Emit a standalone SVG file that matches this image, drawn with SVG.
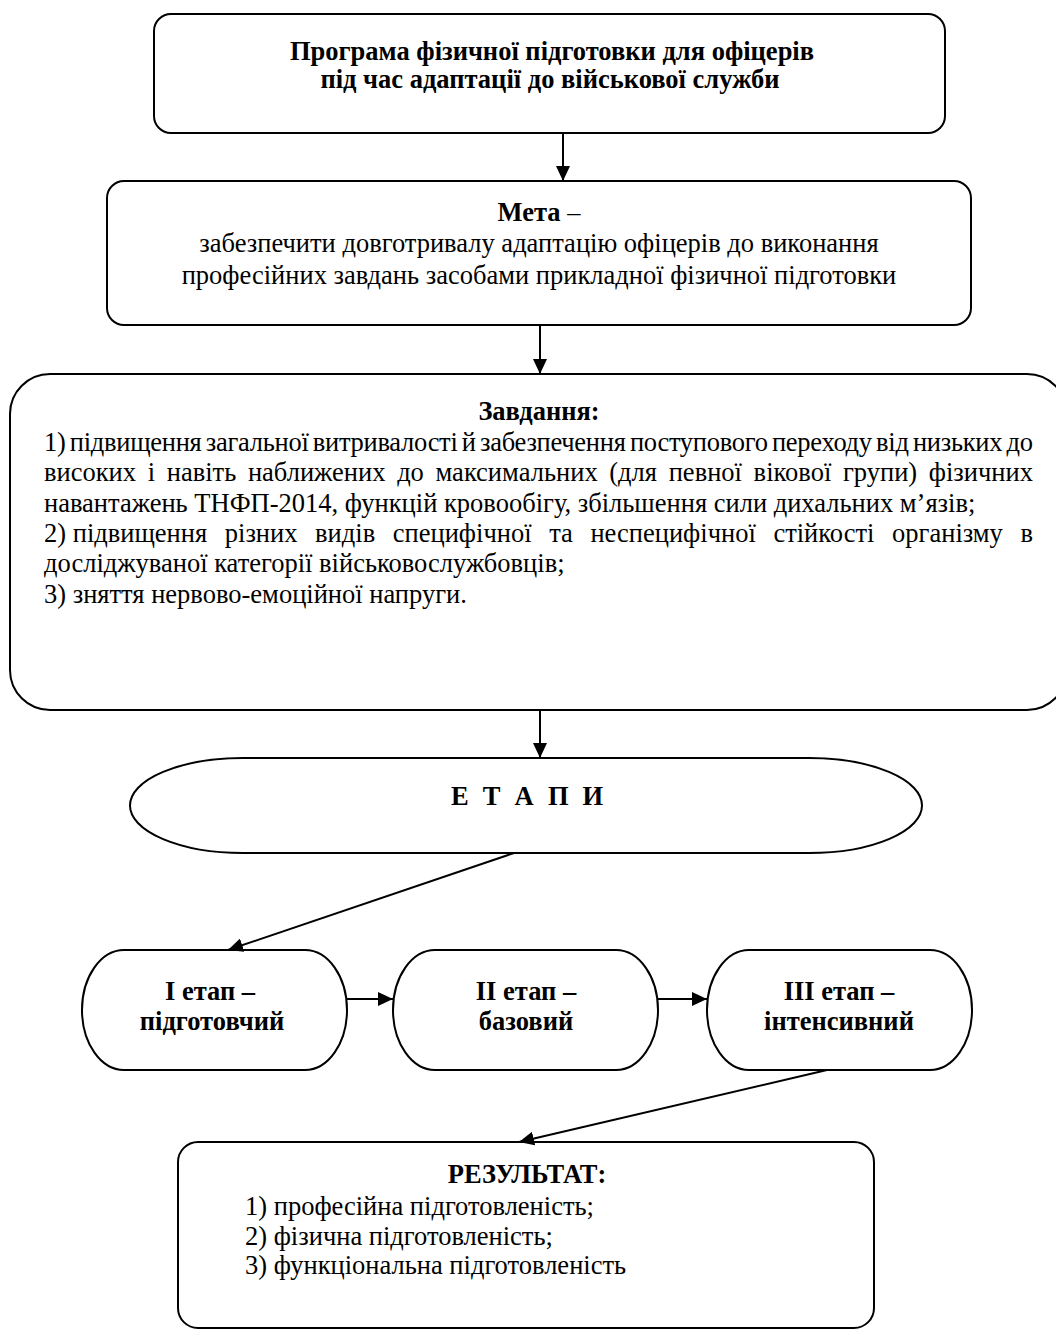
<svg xmlns="http://www.w3.org/2000/svg" width="1056" height="1329" viewBox="0 0 1056 1329">
<defs>
<style>
.box{fill:#fff;stroke:#000;stroke-width:2}
.t{font-family:"Liberation Serif","Times New Roman",serif;font-size:26.5px;fill:#000}
.b{font-weight:bold}
.c{text-anchor:middle}
.con line{stroke:#000;stroke-width:2;marker-end:url(#ah)}
</style>
<marker id="ah" markerUnits="userSpaceOnUse" markerWidth="16" markerHeight="14" refX="15" refY="7" orient="auto">
<path d="M0,0 L15,7 L0,14 z" fill="#000"/>
</marker>
</defs>
<rect width="1056" height="1329" fill="#fff"/>
<g id="program">
<rect class="box" x="154" y="14" width="791" height="119" rx="17"/>
<text class="t b c" x="552" y="60">Програма фізичної підготовки для офіцерів</text>
<text class="t b c" x="550" y="88">під час адаптації до військової служби</text>
</g>
<g id="goal">
<rect class="box" x="107" y="181" width="864" height="144" rx="17"/>
<text class="t c" x="539" y="221"><tspan class="b">Мета</tspan> –</text>
<text class="t c" x="539" y="252">забезпечити довготривалу адаптацію офіцерів до виконання</text>
<text class="t c" x="539" y="284">професійних завдань засобами прикладної фізичної підготовки</text>
</g>
<g id="tasks">
<rect class="box" x="10" y="374" width="1057" height="336" rx="40"/>
<text class="t b c" x="539" y="420">Завдання:</text>
<text class="t" x="44" y="451" word-spacing="-2" textLength="989" lengthAdjust="spacing">1) підвищення загальної витривалості й забезпечення поступового переходу від низьких до</text>
<text class="t" x="44" y="481" word-spacing="5" textLength="989" lengthAdjust="spacing">високих і навіть наближених до максимальних (для певної вікової групи) фізичних</text>
<text class="t" x="44" y="512">навантажень ТНФП-2014, функцій кровообігу, збільшення сили дихальних м’язів;</text>
<text class="t" x="44" y="542" textLength="989" lengthAdjust="spacing"><tspan>2) </tspan><tspan word-spacing="11">підвищення різних видів специфічної та неспецифічної стійкості організму в</tspan></text>
<text class="t" x="44" y="572">досліджуваної категорії військовослужбовців;</text>
<text class="t" x="44" y="603">3) зняття нервово-емоційної напруги.</text>
</g>
<g id="stages">
<rect class="box" x="130" y="758" width="792" height="95" rx="113" ry="47.5"/>
<text class="t b c" x="529" y="805" letter-spacing="3.75">Е Т А П И</text>
</g>
<g id="stage1">
<rect class="box" x="82" y="950" width="265" height="120" rx="42" ry="60"/>
<text class="t b c" x="210" y="1000">І етап –</text>
<text class="t b c" x="212" y="1030">підготовчий</text>
</g>
<g id="stage2">
<rect class="box" x="393" y="950" width="265" height="120" rx="42" ry="60"/>
<text class="t b c" x="526" y="1000">ІІ етап –</text>
<text class="t b c" x="526" y="1030">базовий</text>
</g>
<g id="stage3">
<rect class="box" x="707" y="950" width="265" height="120" rx="42" ry="60"/>
<text class="t b c" x="839" y="1000">ІІІ етап –</text>
<text class="t b c" x="839" y="1030">інтенсивний</text>
</g>
<g id="result">
<rect class="box" x="178" y="1142" width="696" height="186" rx="20"/>
<text class="t b c" x="527" y="1183">РЕЗУЛЬТАТ:</text>
<text class="t" x="245" y="1215">1) професійна підготовленість;</text>
<text class="t" x="245" y="1245">2) фізична підготовленість;</text>
<text class="t" x="245" y="1274">3) функціональна підготовленість</text>
</g>
<g id="connectors" class="con">
<line x1="563" y1="133" x2="563" y2="181"/>
<line x1="540" y1="325" x2="540" y2="374"/>
<line x1="540" y1="710" x2="540" y2="758"/>
<line x1="514" y1="853" x2="228" y2="950"/>
<line x1="347" y1="999" x2="393" y2="999"/>
<line x1="658" y1="999" x2="707" y2="999"/>
<line x1="827" y1="1070" x2="519" y2="1142"/>
</g>
</svg>
